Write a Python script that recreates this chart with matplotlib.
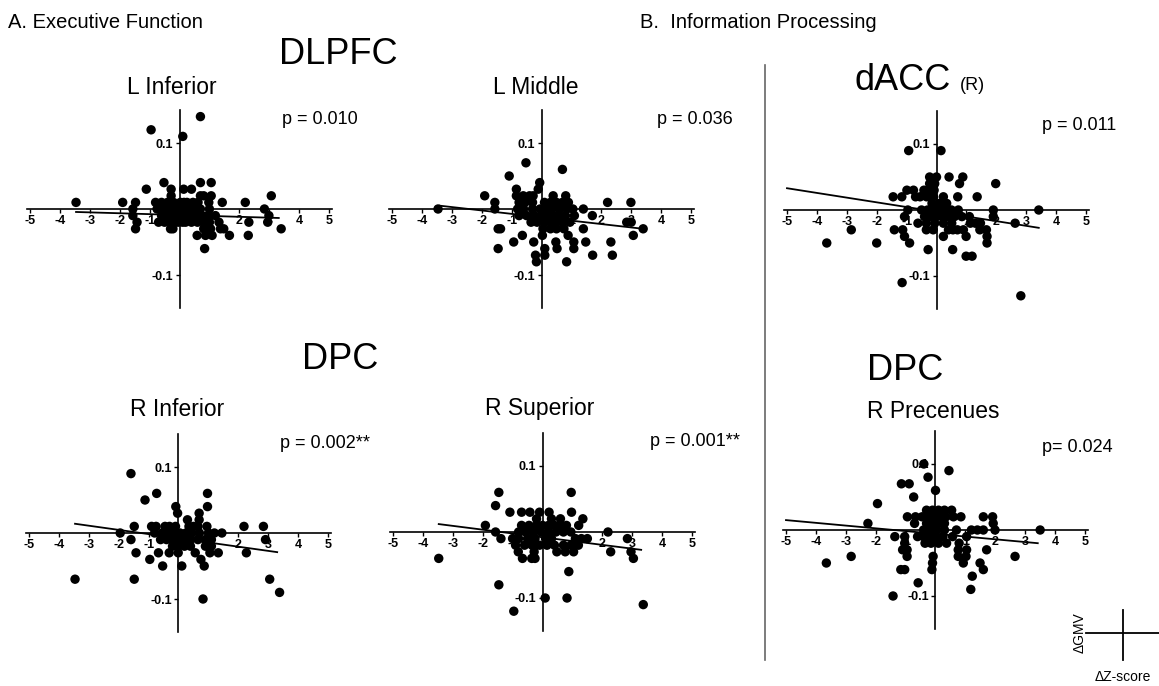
import matplotlib
matplotlib.use("Agg")
import matplotlib.pyplot as plt
import numpy as np

plt.rcParams["font.family"] = ["Liberation Sans", "DejaVu Sans"]

# ---- data (x = delta Z-score, y = delta GMV) ----
# A. DLPFC, L Inferior
linf_x = [0.7, -0.95, 0.11,
          -0.52, 0.7, 1.06,
          -1.11, -0.28, 0.14, 0.4,
          -0.28, 0.7, 0.81, 1.06, 3.07,
          -3.46, -1.9, -1.47, -0.8, -0.6, -0.4, -0.2, 0.03, 0.15, 0.25, 0.45, 0.62, 0.98, 1.43, 2.2,
          -1.56, -0.75, -0.5, -0.3, -0.2, -0.1, 0.1, 0.2, 0.3, 0.4, 0.5, 0.7, 1.0, 2.84,
          -1.56, -0.6, -0.35, -0.25, -0.15, 0.05, 0.25, 0.35, 0.45, 0.6, 0.75, 0.95, 1.2, 2.99,
          -1.42, -0.7, -0.5, -0.3, -0.05, 0.1, 0.2, 0.4, 0.6, 0.8, 1.0, 1.32, 2.32, 2.95,
          -1.47, -0.3, -0.22, 0.81, 1.04, 1.37, 1.48, 3.4,
          0.59, 0.87, 1.09, 1.67, 2.3,
          0.84]
linf_y = [0.14, 0.12, 0.11,
          0.04, 0.04, 0.04,
          0.03, 0.03, 0.03, 0.03,
          0.02, 0.02, 0.02, 0.02, 0.02,
          0.01, 0.01, 0.01, 0.01, 0.01, 0.01, 0.01, 0.01, 0.01, 0.01, 0.01, 0.01, 0.01, 0.01, 0.01,
          0, 0, 0, 0, 0, 0, 0, 0, 0, 0, 0, 0, 0, 0,
          -0.01, -0.01, -0.01, -0.01, -0.01, -0.01, -0.01, -0.01, -0.01, -0.01, -0.01, -0.01, -0.01, -0.01,
          -0.02, -0.02, -0.02, -0.02, -0.02, -0.02, -0.02, -0.02, -0.02, -0.02, -0.02, -0.02, -0.02, -0.02,
          -0.03, -0.03, -0.03, -0.03, -0.03, -0.03, -0.03, -0.03,
          -0.04, -0.04, -0.04, -0.04, -0.04,
          -0.06]
linf_fit_x = [-3.46, 3.32]
linf_fit_y = [-0.0045, -0.0136]

# A. DLPFC, L Middle
lmid_x = [-0.52, 0.7, -1.08, -0.06, -0.84, -0.11,
          -1.9, -0.84, -0.61, -0.4, -0.28, 0.39, 0.81,
          -1.56, -0.75, -0.55, -0.3, 0.1, 0.3, 0.5, 0.7, 0.9, 2.21, 2.99,
          -3.46, -1.56, -0.8, -0.6, -0.3, -0.05, 0.15, 0.35, 0.6, 0.85, 1.05, 1.4,
          -0.75, -0.5, -0.25, 0.0, 0.2, 0.4, 0.6, 0.8, 1.1, 1.7,
          -0.35, -0.15, 0.1, 0.3, 0.5, 0.7, 0.95, 2.85, 3.0,
          -1.45, -1.37, 0.05, 0.3, 0.5, 0.75, 1.4, 3.4,
          -0.64, 0.03, 0.89, 3.07,
          -0.93, -0.26, 0.48, 1.08, 1.48, 2.32,
          -1.45, 0.11, 0.52, 1.08,
          -0.2, 0.11, 1.71, 2.37,
          -0.17, 0.84]
lmid_y = [0.07, 0.06, 0.05, 0.04, 0.03, 0.03,
          0.02, 0.02, 0.02, 0.02, 0.02, 0.02, 0.02,
          0.01, 0.01, 0.01, 0.01, 0.01, 0.01, 0.01, 0.01, 0.01, 0.01, 0.01,
          0, 0, 0, 0, 0, 0, 0, 0, 0, 0, 0, 0,
          -0.01, -0.01, -0.01, -0.01, -0.01, -0.01, -0.01, -0.01, -0.01, -0.01,
          -0.02, -0.02, -0.02, -0.02, -0.02, -0.02, -0.02, -0.02, -0.02,
          -0.03, -0.03, -0.03, -0.03, -0.03, -0.03, -0.03, -0.03,
          -0.04, -0.04, -0.04, -0.04,
          -0.05, -0.05, -0.05, -0.05, -0.05, -0.05,
          -0.06, -0.06, -0.06, -0.06,
          -0.07, -0.07, -0.07, -0.07,
          -0.08, -0.08]
lmid_fit_x = [-3.4, 3.4]
lmid_fit_y = [0.005, -0.030]

# A. DPC, R Inferior
rinf_x = [-1.59, -0.73, 0.97, -1.12, -0.09, 0.97, -0.03, 0.69, 0.3, 0.69,
          -1.48, -0.9, -0.75, -0.45, -0.3, -0.1, 0.35, 0.5, 0.65, 0.95, 2.19, 2.84,
          -1.95, -0.8, -0.55, -0.35, -0.15, 0.05, 0.25, 0.45, 0.7, 1.0, 1.2, 1.45,
          -1.59, -0.6, -0.4, -0.2, 0.0, 0.2, 0.4, 0.65, 0.9, 1.1, 2.91,
          -0.2, 0.0, 0.2, 0.4, 0.9, 1.1,
          -1.42, -0.67, -0.31, -0.01, 0.56, 1.05, 1.33, 2.27,
          -0.96, 0.75,
          -0.53, 0.11, 0.86,
          -3.46, -1.48, 3.05,
          3.38, 0.82]
rinf_y = [0.09, 0.06, 0.06, 0.05, 0.04, 0.04, 0.03, 0.03, 0.02, 0.02,
          0.01, 0.01, 0.01, 0.01, 0.01, 0.01, 0.01, 0.01, 0.01, 0.01, 0.01, 0.01,
          0, 0, 0, 0, 0, 0, 0, 0, 0, 0, 0, 0,
          -0.01, -0.01, -0.01, -0.01, -0.01, -0.01, -0.01, -0.01, -0.01, -0.01, -0.01,
          -0.02, -0.02, -0.02, -0.02, -0.02, -0.02,
          -0.03, -0.03, -0.03, -0.03, -0.03, -0.03, -0.03, -0.03,
          -0.04, -0.04,
          -0.05, -0.05, -0.05,
          -0.07, -0.07, -0.07,
          -0.09, -0.10]
rinf_fit_x = [-3.46, 3.3]
rinf_fit_y = [0.014, -0.029]

# A. DPC, R Superior
rsup_x = [-1.46, 0.96, -1.57,
          -1.09, -0.7, -0.42, -0.1, 0.22, 0.97,
          -0.2, 0.3, 0.6, 1.35,
          -1.91, -0.7, -0.45, -0.2, 0.0, 0.2, 0.4, 0.6, 0.8, 1.21,
          -1.57, -0.8, -0.55, -0.3, -0.05, 0.2, 0.45, 0.7, 0.95, 2.19,
          -1.39, -1.0, -0.8, -0.5, -0.25, 0.1, 0.3, 1.1, 1.3, 1.5, 2.84,
          -0.9, -0.6, -0.35, -0.1, 0.15, 0.4, 0.7, 0.95, 1.2,
          -0.81, -0.28, 0.48, 0.76, 1.04, 2.28, 2.96,
          -3.47, -0.67, -0.36, -0.25, 3.04,
          0.88, -1.46, 0.09, 0.82, 3.37, -0.96]
rsup_y = [0.06, 0.06, 0.04,
          0.03, 0.03, 0.03, 0.03, 0.03, 0.03,
          0.02, 0.02, 0.02, 0.02,
          0.01, 0.01, 0.01, 0.01, 0.01, 0.01, 0.01, 0.01, 0.01, 0.01,
          0, 0, 0, 0, 0, 0, 0, 0, 0, 0,
          -0.01, -0.01, -0.01, -0.01, -0.01, -0.01, -0.01, -0.01, -0.01, -0.01, -0.01,
          -0.02, -0.02, -0.02, -0.02, -0.02, -0.02, -0.02, -0.02, -0.02,
          -0.03, -0.03, -0.03, -0.03, -0.03, -0.03, -0.03,
          -0.04, -0.04, -0.04, -0.04, -0.04,
          -0.06, -0.08, -0.10, -0.10, -0.11, -0.12]
rsup_fit_x = [-3.47, 3.3]
rsup_fit_y = [0.012, -0.027]

# B. dACC (R)
dacc_x = [-0.93, 0.15,
          -0.23, 0.0, 0.42, 0.88,
          -0.23, -0.06, 0.77, 1.98,
          -0.99, -0.77, -0.42, -0.25, -0.08,
          -1.45, -1.16, -0.7, -0.55, -0.33, -0.1, 0.23, 0.71, 1.36,
          -0.15, 0.1, 0.22, 0.34,
          -0.96, -0.5, -0.3, -0.1, 0.1, 0.3, 0.5, 0.73, 1.9, 3.42,
          -1.07, -0.4, -0.2, 0.0, 0.2, 0.4, 0.6, 0.85, 1.1, 1.9,
          -0.62, -0.34, -0.06, 0.23, 0.51, 1.13, 1.3, 1.47, 2.63,
          -2.85, -1.41, -1.13, -0.34, -0.11, 0.4, 0.55, 0.7, 0.9, 1.45, 1.67,
          -1.07, 0.23, 0.99, 1.69,
          -3.67, -2.0, -0.9, 1.69,
          -0.28, 0.54,
          0.99, 1.19,
          -1.15, 2.82]
dacc_y = [0.09, 0.09,
          0.05, 0.05, 0.05, 0.05,
          0.04, 0.04, 0.04, 0.04,
          0.03, 0.03, 0.03, 0.03, 0.03,
          0.02, 0.02, 0.02, 0.02, 0.02, 0.02, 0.02, 0.02, 0.02,
          0.01, 0.01, 0.01, 0.01,
          0, 0, 0, 0, 0, 0, 0, 0, 0, 0,
          -0.01, -0.01, -0.01, -0.01, -0.01, -0.01, -0.01, -0.01, -0.01, -0.01,
          -0.02, -0.02, -0.02, -0.02, -0.02, -0.02, -0.02, -0.02, -0.02,
          -0.03, -0.03, -0.03, -0.03, -0.03, -0.03, -0.03, -0.03, -0.03, -0.03, -0.03,
          -0.04, -0.04, -0.04, -0.04,
          -0.05, -0.05, -0.05, -0.05,
          -0.06, -0.06,
          -0.07, -0.07,
          -0.11, -0.13]
dacc_fit_x = [-5.0, 3.42]
dacc_fit_y = [0.033, -0.027]

# B. DPC, R Precenues
rpre_x = [-0.39, 0.45, -0.25, -1.14, -0.88, 0.0, -0.73, -1.94,
          -0.3, -0.1, 0.1, 0.3, 0.54,
          -0.94, -0.67, -0.45, -0.25, -0.05, 0.15, 0.35, 0.6, 0.85, 1.6, 1.91,
          -2.26, -0.7, -0.3, -0.1, 0.1, 0.3, 1.93,
          -0.4, -0.15, 0.05, 0.3, 0.7, 1.2, 1.4, 1.6, 1.99, 3.5,
          -1.36, -1.03, -0.6, -0.4, -0.2, 0.0, 0.25, 0.57, 1.04,
          -1.03, -0.35, -0.15, 0.1, 0.37, 0.79,
          -1.1, -0.95, 0.76, 1.04, 1.71,
          -2.82, -0.95, -0.08, 0.76, 1.02, 2.66,
          -3.65, -0.1, 0.93, 1.49,
          -1.16, -1.03, -0.12, 1.6,
          1.23, -0.58, 1.18, -1.42]
rpre_y = [0.10, 0.09, 0.08, 0.07, 0.07, 0.06, 0.05, 0.04,
          0.03, 0.03, 0.03, 0.03, 0.03,
          0.02, 0.02, 0.02, 0.02, 0.02, 0.02, 0.02, 0.02, 0.02, 0.02, 0.02,
          0.01, 0.01, 0.01, 0.01, 0.01, 0.01, 0.01,
          0, 0, 0, 0, 0, 0, 0, 0, 0, 0,
          -0.01, -0.01, -0.01, -0.01, -0.01, -0.01, -0.01, -0.01, -0.01,
          -0.02, -0.02, -0.02, -0.02, -0.02, -0.02,
          -0.03, -0.03, -0.03, -0.03, -0.03,
          -0.04, -0.04, -0.04, -0.04, -0.04, -0.04,
          -0.05, -0.05, -0.05, -0.05,
          -0.06, -0.06, -0.06, -0.06,
          -0.07, -0.08, -0.09, -0.10]
rpre_fit_x = [-5.0, 3.42]
rpre_fit_y = [0.015, -0.020]

x_ticks = [-5, -4, -3, -2, -1, 0, 1, 2, 3, 4, 5]
x_tick_labels = ["-5", "-4", "-3", "-2", "-1", "", "1", "2", "3", "4", "5"]
y_ticks = [-0.1, 0.1]
y_tick_labels = ["-0.1", "0.1"]

# ---- layout (pixel based) ----
FW, FH = 1159, 686
AW, AH = 305, 198

fig = plt.figure(figsize=(FW / 100, FH / 100), dpi=100)


def px(x, y):
    return x / FW, 1 - y / FH


def panel(left, top, xs, ys, fx, fy):
    ax = fig.add_axes([left / FW, 1 - (top + AH) / FH, AW / FW, AH / FH])
    ax.set_xlim(-5.1, 5.1)
    ax.set_ylim(-0.15, 0.15)
    for s in ("top", "right"):
        ax.spines[s].set_visible(False)
    for s in ("left", "bottom"):
        ax.spines[s].set_position(("data", 0))
        ax.spines[s].set_linewidth(1.2)
    ax.set_xticks(x_ticks)
    ax.set_xticklabels(x_tick_labels, fontweight="bold", fontsize=9)
    ax.set_yticks(y_ticks)
    ax.set_yticklabels(y_tick_labels, fontweight="bold", fontsize=9)
    ax.tick_params(length=3, width=1, pad=1.5)
    ax.patch.set_alpha(0)
    ax.scatter(xs, ys, s=46, color="black", edgecolors="none", zorder=3, clip_on=False)
    ax.plot(fx, fy, color="black", lw=1.3, zorder=4)
    return ax


panel(27, 110, linf_x, linf_y, linf_fit_x, linf_fit_y)
panel(389, 110, lmid_x, lmid_y, lmid_fit_x, lmid_fit_y)
panel(784, 111, dacc_x, dacc_y, dacc_fit_x, dacc_fit_y)
panel(26, 434, rinf_x, rinf_y, rinf_fit_x, rinf_fit_y)
panel(390, 433, rsup_x, rsup_y, rsup_fit_x, rsup_fit_y)
panel(783, 431, rpre_x, rpre_y, rpre_fit_x, rpre_fit_y)

# ---- titles and annotations ----
fig.text(*px(8, 22), "A. Executive Function", fontsize=14.5, va="center", ha="left")
fig.text(*px(640, 22), "B.  Information Processing", fontsize=14.5, va="center", ha="left")

fig.text(*px(338, 55), "DLPFC", fontsize=26, va="center", ha="center")
fig.text(*px(340, 360), "DPC", fontsize=26, va="center", ha="center")
fig.text(*px(905, 370), "DPC", fontsize=26, va="center", ha="center")
fig.text(*px(903, 80), "dACC", fontsize=26, va="center", ha="center")
fig.text(*px(960, 85), "(R)", fontsize=13, va="center", ha="left")

fig.text(*px(172, 88), "L Inferior", fontsize=16.5, va="center", ha="center")
fig.text(*px(536, 88), "L Middle", fontsize=16.5, va="center", ha="center")
fig.text(*px(177, 409), "R Inferior", fontsize=16.5, va="center", ha="center")
fig.text(*px(540, 409), "R Superior", fontsize=16.5, va="center", ha="center")
fig.text(*px(933, 411), "R Precenues", fontsize=16.5, va="center", ha="center")

fig.text(*px(282, 119), "p = 0.010", fontsize=13, va="center", ha="left")
fig.text(*px(657, 119), "p = 0.036", fontsize=13, va="center", ha="left")
fig.text(*px(1042, 125), "p = 0.011", fontsize=13, va="center", ha="left")
fig.text(*px(280, 443), "p = 0.002**", fontsize=13, va="center", ha="left")
fig.text(*px(650, 442), "p = 0.001**", fontsize=13, va="center", ha="left")
fig.text(*px(1042, 447), "p= 0.024", fontsize=13, va="center", ha="left")

# separator between A and B
fig.add_artist(plt.Line2D([765 / FW, 765 / FW], [1 - 65 / FH, 1 - 660 / FH],
                          color="#666666", lw=1.2))

# key: delta GMV vs delta Z-score
fig.add_artist(plt.Line2D([1086 / FW, 1159 / FW], [1 - 633 / FH, 1 - 633 / FH], color="black", lw=1.3))
fig.add_artist(plt.Line2D([1123 / FW, 1123 / FW], [1 - 610 / FH, 1 - 660 / FH], color="black", lw=1.3))
fig.text(*px(1080, 633), "\u0394GMV", fontsize=10, rotation=90, va="center", ha="center")
fig.text(*px(1123, 677), "\u0394Z-score", fontsize=10, va="center", ha="center")

fig.savefig("out.png", dpi=100)
